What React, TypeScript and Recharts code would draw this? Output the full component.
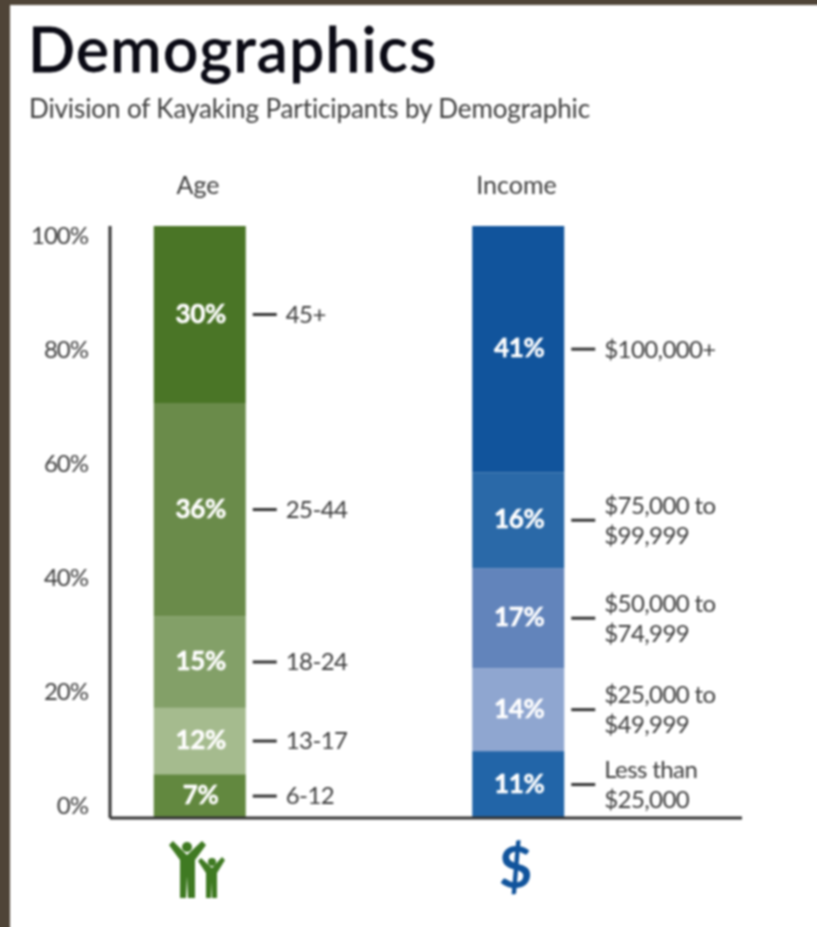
import { BarChart, Bar, XAxis, YAxis, LabelList } from "recharts"

const groups = ["Age", "Income"]
const percentTicks = [0, 20, 40, 60, 80, 100]

// segment heights as measured on the picture, bottom to top
const ageHeights = [7.4, 11.2, 15.5, 36, 29.9]
const incomeHeights = [11.3, 14, 16.9, 16.2, 41.6]

// printed percentages (income only adds up to 99 in the original)
const agePercents = ["7%", "12%", "15%", "36%", "30%"]
const incomePercents = ["11%", "14%", "17%", "16%", "41%"]

const ageBands = ["6-12", "13-17", "18-24", "25-44", "45+"]
const incomeBands = [
  "Less than\n$25,000",
  "$25,000 to\n$49,999",
  "$50,000 to\n$74,999",
  "$75,000 to\n$99,999",
  "$100,000+",
]

const ageColors = ["#62883f", "#a5bb8e", "#83a068", "#6a8b4a", "#4a7526"]
const incomeColors = ["#2265a8", "#8fa6d0", "#6284bb", "#2a69a8", "#11549c"]

const segments = [0, 1, 2, 3, 4]

const rows = [
  { group: groups[0] } as any,
  { group: groups[1] } as any,
]
segments.forEach((i) => {
  rows[0]["h" + i] = ageHeights[i]
  rows[1]["h" + i] = incomeHeights[i]
  rows[0]["pct" + i] = agePercents[i]
  rows[1]["pct" + i] = incomePercents[i]
  rows[0]["band" + i] = ageBands[i]
  rows[1]["band" + i] = incomeBands[i]
})

const FONT = "Lato, sans-serif"
const TEXT = "#3d3d3d"

function PercentLabel(props: any) {
  const { x, y, width, height, value } = props
  return (
    <text
      x={x + width / 2 + 1}
      y={y + height / 2 - 1}
      dy="0.35em"
      textAnchor="middle"
      fill="#fff"
      stroke="#fff"
      strokeWidth={0.5}
      fontFamily={FONT}
      fontWeight={700}
      fontSize={26}
      letterSpacing={-0.3}
    >
      {value}
    </text>
  )
}

function BandLabel(props: any) {
  const { x, y, width, height, value } = props
  const right = x + width
  const mid = y + height / 2
  const lines = String(value).split("\n")
  return (
    <g>
      <line x1={right + 7} x2={right + 31} y1={mid} y2={mid} stroke="#333" strokeWidth={3} />
      {lines.map((line, i) => (
        <text
          key={line}
          x={right + 40}
          y={mid + (i - (lines.length - 1) / 2) * 30}
          dy="0.35em"
          fill={TEXT}
          fontFamily={FONT}
          fontSize={24}
          letterSpacing={-0.6}
        >
          {line}
        </text>
      ))}
    </g>
  )
}

function GroupIcon(props: any) {
  const { x, payload } = props
  if (payload.value === "Income") {
    return (
      <text x={x - 3} y={868} dy="0.35em" textAnchor="middle" fill="#11549c" fontFamily={FONT} fontWeight={700} fontSize={58}>
        $
      </text>
    )
  }
  const green = "#3f7a22"
  return (
    <g transform={`translate(${x},0)`} fill={green} stroke="none">
      <circle cx={-13} cy={847} r={5} />
      <polygon points="-31,845 -27,841 -13,855 2,841 6,845 -5,860 -5,898 -12,898 -13,876 -14,898 -20,898 -20,860" />
      <circle cx={12} cy={862} r={4} />
      <polygon points="-2,861 1,858 12,868 22,857 25,860 17,873 17,898 12,898 11.5,882 11,898 6,898 6,873" />
    </g>
  )
}

export default function App() {
  return (
    <div style={{ position: "absolute", left: 0, top: 0, width: 817, height: 927, background: "#4f4437", overflow: "hidden" }}>
      {/* panel runs past the page edge so the blur does not show the brown behind it */}
      <div style={{ position: "absolute", left: 10, top: 5, width: 830, height: 945, background: "#fff", filter: "blur(0.8px)" }}>
        <div style={{ position: "absolute", left: 18, top: 3, fontFamily: FONT, fontWeight: 500, fontSize: 62, lineHeight: "80px", color: "#0a0a14", letterSpacing: 1.4, WebkitTextStroke: "0.8px #0a0a14", whiteSpace: "nowrap" }}>
          Demographics
        </div>
        <div style={{ position: "absolute", left: 19, top: 87, fontFamily: FONT, fontSize: 26, lineHeight: "32px", color: TEXT, letterSpacing: -0.1, whiteSpace: "nowrap" }}>
          Division of Kayaking Participants by Demographic
        </div>
        <div style={{ position: "absolute", left: -10, top: -5 }}>
          <BarChart
            width={817}
            height={927}
            data={rows}
            margin={{ top: 196, right: 75, bottom: 29, left: 30 }}
            barSize={92}
          >
            <XAxis
              xAxisId="top"
              orientation="top"
              dataKey="group"
              scale="point"
              padding={{ left: 90, right: 223.5 }}
              height={30}
              axisLine={false}
              tickLine={false}
              tickMargin={26}
              tick={{ fill: TEXT, fontFamily: FONT, fontSize: 25, dx: -2 }}
            />
            <XAxis
              xAxisId="bottom"
              dataKey="group"
              scale="point"
              padding={{ left: 90, right: 223.5 }}
              height={80}
              axisLine={{ stroke: "#333", strokeWidth: 3 }}
              tickLine={false}
              tick={<GroupIcon />}
            />
            <YAxis
              yAxisId="percent"
              width={79}
              domain={[-2.28, 101.58]}
              ticks={percentTicks}
              allowDataOverflow
              axisLine={false}
              tickLine={false}
              tickMargin={15}
              tickFormatter={(v) => v + "%"}
              tick={{ fill: TEXT, fontFamily: FONT, fontSize: 24, letterSpacing: -1 }}
            />
            <YAxis
              yAxisId="bars"
              width={1}
              domain={[0, 100]}
              ticks={percentTicks}
              tick={false}
              tickLine={false}
              axisLine={{ stroke: "#333", strokeWidth: 3 }}
            />
            {segments.map((i) => (
              <Bar
                key={i}
                xAxisId="bottom"
                yAxisId="bars"
                dataKey={"h" + i}
                stackId="share"
                isAnimationActive={false}
                shape={(p: any) => (
                  <rect x={p.x} y={p.y} width={p.width} height={p.height} fill={p.index === 0 ? ageColors[i] : incomeColors[i]} />
                )}
              >
                <LabelList dataKey={"pct" + i} content={<PercentLabel />} />
                <LabelList dataKey={"band" + i} content={<BandLabel />} />
              </Bar>
            ))}
          </BarChart>
        </div>
      </div>
    </div>
  )
}
